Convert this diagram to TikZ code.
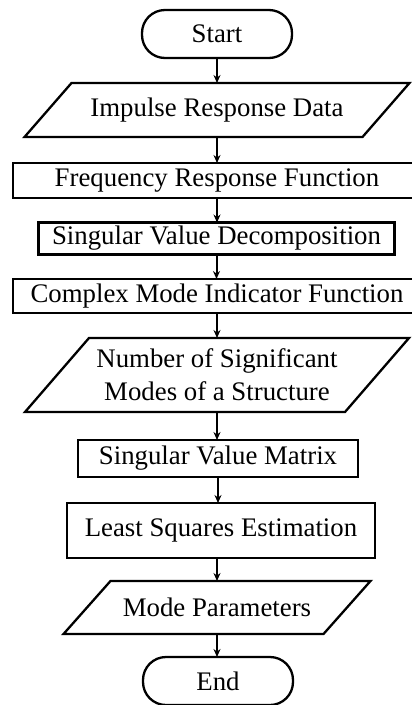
\documentclass[tikz,border=0pt]{standalone}
\usepackage{fontspec}
\setmainfont{Liberation Serif}
\usetikzlibrary{arrows.meta,calc}
\tikzset{
  base/.style={inner sep=0pt, outer sep=0pt, line width=2.3pt, align=center,
    font=\fontsize{26.8}{33}\selectfont, text=black},
  term/.style={base, draw, rounded corners=23pt, minimum width=150pt, minimum height=48pt},
  proc/.style={base, draw},
  io/.style={base},
  conn/.style={line width=2pt, -{Stealth[length=8pt,width=7pt]}},
}
\newcommand\plgram[2]{%
  \draw[line width=2.3pt] ($(#1.south west)+(-#2/2,0)$) -- ($(#1.south east)+(-#2/2,0)$)
    -- ($(#1.north east)+(#2/2,0)$) -- ($(#1.north west)+(#2/2,0)$) -- cycle;}
\begin{document}
\begin{tikzpicture}[x=1pt,y=-1pt]
\useasboundingbox (0,0) rectangle (412,705);
\clip (0,0) rectangle (412,705);
\node[term] (start) at (217,34) {Start};
\node[io, minimum width=338pt, minimum height=54pt] (ird) at (217,110) {Impulse Response Data};
\plgram{ird}{47}
\node[proc, minimum width=408pt, minimum height=35pt] (frf) at (217,180.5) {Frequency Response Function};
\node[proc, minimum width=356pt, minimum height=32pt] (svd) at (216.5,238.5) {Singular Value Decomposition};
\node[proc, minimum width=408pt, minimum height=34pt] (cmif) at (217,296) {Complex Mode Indicator Function};
\node[io, minimum width=320pt, minimum height=74pt] (nsm) at (217,375) {Number of Significant\\Modes of a Structure};
\plgram{nsm}{64}
\node[proc, minimum width=280pt, minimum height=37pt] (svm) at (218,458.5) {Singular Value Matrix};
\node[proc, minimum width=308pt, minimum height=55pt] (lse) at (221,530.5) {Least Squares Estimation};
\node[io, minimum width=260pt, minimum height=53pt] (mp) at (217,607.5) {Mode Parameters};
\plgram{mp}{47}
\node[term] (end) at (218,681) {End};
\draw[conn] (start.south) -- (start.south |- ird.north);
\draw[conn] (ird.south) -- (ird.south |- frf.north);
\draw[conn] (frf.south) -- (frf.south |- svd.north);
\draw[conn] (svd.south) -- (svd.south |- cmif.north);
\draw[conn] (cmif.south) -- (cmif.south |- nsm.north);
\draw[conn] (nsm.south) -- (nsm.south |- svm.north);
\draw[conn] (svm.south) -- (svm.south |- lse.north);
\draw[conn] (lse.south -| mp.north) -- (mp.north);
\draw[conn] (mp.south) -- (mp.south |- end.north);
\end{tikzpicture}
\end{document}
